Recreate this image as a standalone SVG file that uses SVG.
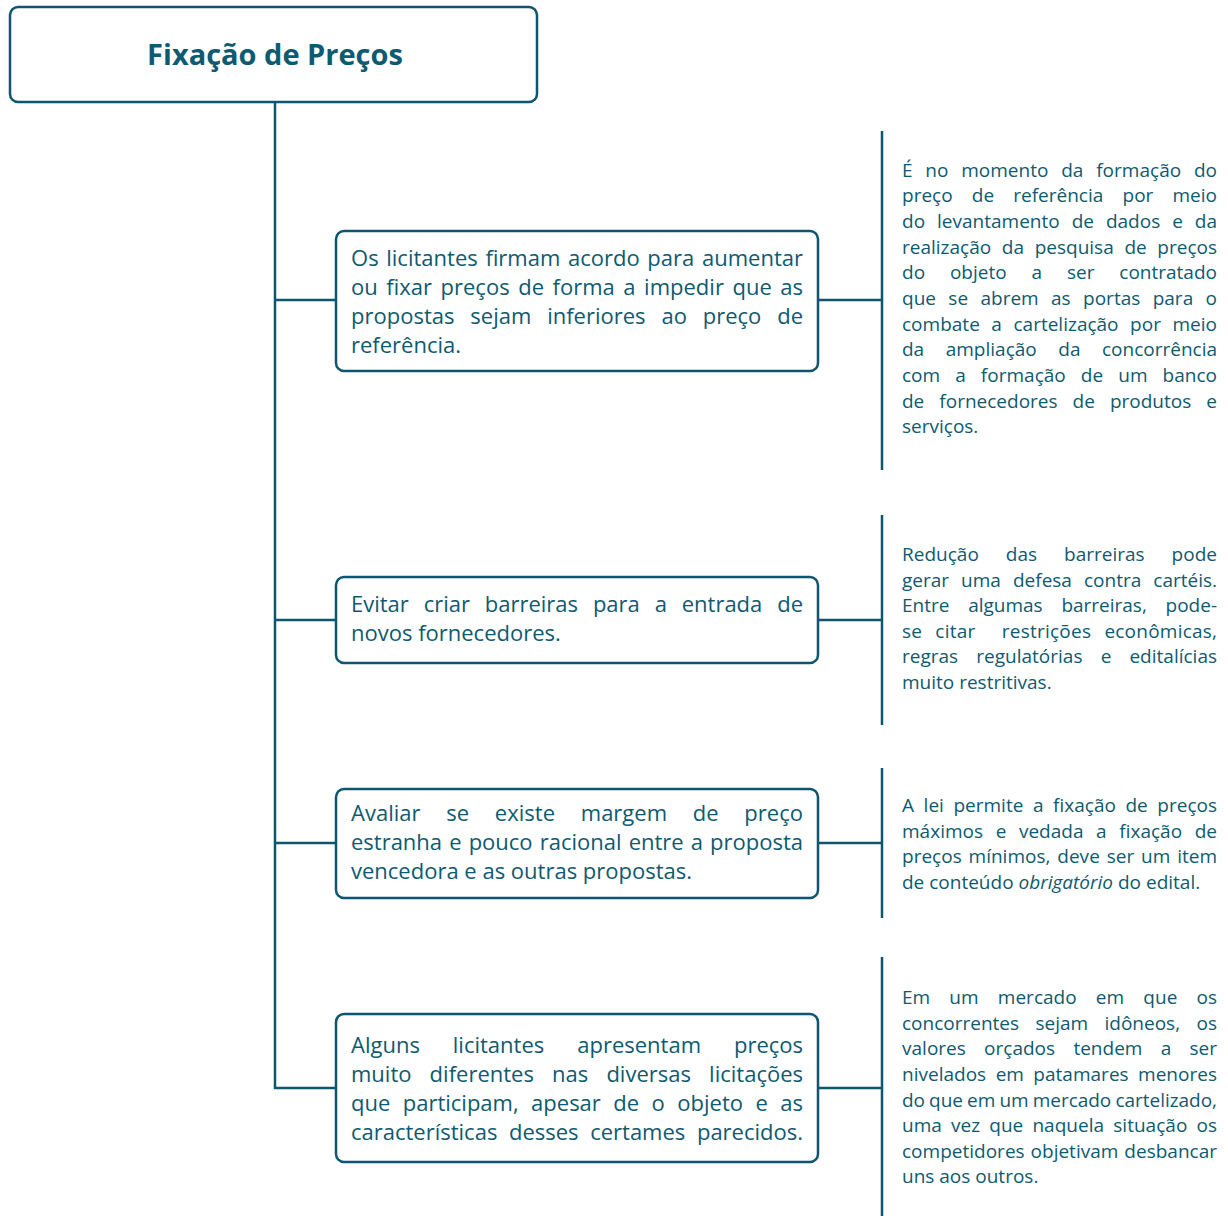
<svg xmlns="http://www.w3.org/2000/svg" width="1228" height="1216" viewBox="0 0 1228 1216">
<style>
.box{fill:#fff;stroke:#0d5670;stroke-width:2.5}
.ln{stroke:#0d5670;stroke-width:2.5;fill:none}
.t{font-family:"Open Sans","Noto Sans",sans-serif;fill:#0e5a70}
.bt{font-size:22px}
.rt{font-size:19px}
.title{font-size:29px;font-weight:bold}
</style>
<rect width="1228" height="1216" fill="#fff"/>
<g id="connectors">
<line class="ln" x1="275" y1="102" x2="275" y2="1089"/>
<line class="ln" x1="274" y1="300" x2="336" y2="300"/>
<line class="ln" x1="274" y1="620" x2="336" y2="620"/>
<line class="ln" x1="274" y1="843" x2="336" y2="843"/>
<line class="ln" x1="274" y1="1088" x2="336" y2="1088"/>
<line class="ln" x1="818" y1="300" x2="882" y2="300"/>
<line class="ln" x1="818" y1="620" x2="882" y2="620"/>
<line class="ln" x1="818" y1="843" x2="882" y2="843"/>
<line class="ln" x1="818" y1="1088" x2="882" y2="1088"/>
<line class="ln" x1="882" y1="131" x2="882" y2="470"/>
<line class="ln" x1="882" y1="515" x2="882" y2="725"/>
<line class="ln" x1="882" y1="768" x2="882" y2="918"/>
<line class="ln" x1="882" y1="957" x2="882" y2="1216"/>
</g>
<g id="title">
<rect class="box" x="10" y="7" width="527" height="95" rx="8"/>
<text class="t title" x="275" y="65" text-anchor="middle">Fixação de Preços</text>
</g>
<g id="box1">
<rect class="box" x="336" y="231" width="482" height="140" rx="8"/>
<text class="t bt" x="351" y="266" word-spacing="1.9" textLength="452" lengthAdjust="spacing">Os licitantes firmam acordo para aumentar</text>
<text class="t bt" x="351" y="295" word-spacing="2.8" textLength="452" lengthAdjust="spacing">ou fixar preços de forma a impedir que as</text>
<text class="t bt" x="351" y="324" word-spacing="10.1" textLength="452" lengthAdjust="spacing">propostas sejam inferiores ao preço de</text>
<text class="t bt" x="351" y="353">referência.</text>
</g>
<g id="box2">
<rect class="box" x="336" y="577" width="482" height="86" rx="8"/>
<text class="t bt" x="351" y="612" word-spacing="9.2" textLength="452" lengthAdjust="spacing">Evitar criar barreiras para a entrada de</text>
<text class="t bt" x="351" y="641">novos fornecedores.</text>
</g>
<g id="box3">
<rect class="box" x="336" y="789" width="482" height="109" rx="8"/>
<text class="t bt" x="351" y="821" word-spacing="20" textLength="452" lengthAdjust="spacing">Avaliar se existe margem de preço</text>
<text class="t bt" x="351" y="850" word-spacing="1.4" textLength="452" lengthAdjust="spacing">estranha e pouco racional entre a proposta</text>
<text class="t bt" x="351" y="879">vencedora e as outras propostas.</text>
</g>
<g id="box4">
<rect class="box" x="336" y="1014" width="482" height="148" rx="8"/>
<text class="t bt" x="351" y="1053" word-spacing="27.2" textLength="452" lengthAdjust="spacing">Alguns licitantes apresentam preços</text>
<text class="t bt" x="351" y="1082" word-spacing="12.4" textLength="452" lengthAdjust="spacing">muito diferentes nas diversas licitações</text>
<text class="t bt" x="351" y="1111" word-spacing="6.8" textLength="452" lengthAdjust="spacing">que participam, apesar de o objeto e as</text>
<text class="t bt" x="351" y="1140" word-spacing="5.9" textLength="452" lengthAdjust="spacing">características desses certames parecidos.</text>
</g>
<g id="note1">
<text class="t rt" x="902" y="177" word-spacing="7.8" textLength="315" lengthAdjust="spacing">É no momento da formação do</text>
<text class="t rt" x="902" y="202" word-spacing="14.2" textLength="315" lengthAdjust="spacing">preço de referência por meio</text>
<text class="t rt" x="902" y="228" word-spacing="7" textLength="315" lengthAdjust="spacing">do levantamento de dados e da</text>
<text class="t rt" x="902" y="254" word-spacing="5.7" textLength="315" lengthAdjust="spacing">realização da pesquisa de preços</text>
<text class="t rt" x="902" y="279" word-spacing="19.9" textLength="315" lengthAdjust="spacing">do objeto a ser contratado</text>
<text class="t rt" x="902" y="305" word-spacing="7.4" textLength="315" lengthAdjust="spacing">que se abrem as portas para o</text>
<text class="t rt" x="902" y="331" word-spacing="6.6" textLength="315" lengthAdjust="spacing">combate a cartelização por meio</text>
<text class="t rt" x="902" y="356" word-spacing="16.6" textLength="315" lengthAdjust="spacing">da ampliação da concorrência</text>
<text class="t rt" x="902" y="382" word-spacing="10.1" textLength="315" lengthAdjust="spacing">com a formação de um banco</text>
<text class="t rt" x="902" y="408" word-spacing="10.1" textLength="315" lengthAdjust="spacing">de fornecedores de produtos e</text>
<text class="t rt" x="902" y="433">serviços.</text>
</g>
<g id="note2">
<text class="t rt" x="902" y="561" word-spacing="22" textLength="315" lengthAdjust="spacing">Redução das barreiras pode</text>
<text class="t rt" x="902" y="587" word-spacing="7.1" textLength="315" lengthAdjust="spacing">gerar uma defesa contra cartéis.</text>
<text class="t rt" x="902" y="612" word-spacing="13.8" textLength="315" lengthAdjust="spacing">Entre algumas barreiras, pode-</text>
<text class="t rt" x="902" y="638" word-spacing="8" textLength="315" lengthAdjust="spacing" xml:space="preserve">se citar  restrições econômicas,</text>
<text class="t rt" x="902" y="663" word-spacing="13.2" textLength="315" lengthAdjust="spacing">regras regulatórias e editalícias</text>
<text class="t rt" x="902" y="689">muito restritivas.</text>
</g>
<g id="note3">
<text class="t rt" x="902" y="812" word-spacing="4.6" textLength="315" lengthAdjust="spacing">A lei permite a fixação de preços</text>
<text class="t rt" x="902" y="838" word-spacing="7.6" textLength="315" lengthAdjust="spacing">máximos e vedada a fixação de</text>
<text class="t rt" x="902" y="863" word-spacing="1.9" textLength="315" lengthAdjust="spacing">preços mínimos, deve ser um item</text>
<text class="t rt" x="902" y="889">de conteúdo <tspan font-style="italic">obrigatório</tspan> do edital.</text>
</g>
<g id="note4">
<text class="t rt" x="902" y="1004" word-spacing="14.2" textLength="315" lengthAdjust="spacing">Em um mercado em que os</text>
<text class="t rt" x="902" y="1030" word-spacing="11.5" textLength="315" lengthAdjust="spacing">concorrentes sejam idôneos, os</text>
<text class="t rt" x="902" y="1055" word-spacing="13.3" textLength="315" lengthAdjust="spacing">valores orçados tendem a ser</text>
<text class="t rt" x="902" y="1081" word-spacing="4.5" textLength="315" lengthAdjust="spacing">nivelados em patamares menores</text>
<text class="t rt" x="902" y="1107" word-spacing="-0.8" textLength="315" lengthAdjust="spacing">do que em um mercado cartelizado,</text>
<text class="t rt" x="902" y="1132" word-spacing="4.2" textLength="315" lengthAdjust="spacing">uma vez que naquela situação os</text>
<text class="t rt" x="902" y="1158" word-spacing="1" textLength="315" lengthAdjust="spacing">competidores objetivam desbancar</text>
<text class="t rt" x="902" y="1183">uns aos outros.</text>
</g>
</svg>
